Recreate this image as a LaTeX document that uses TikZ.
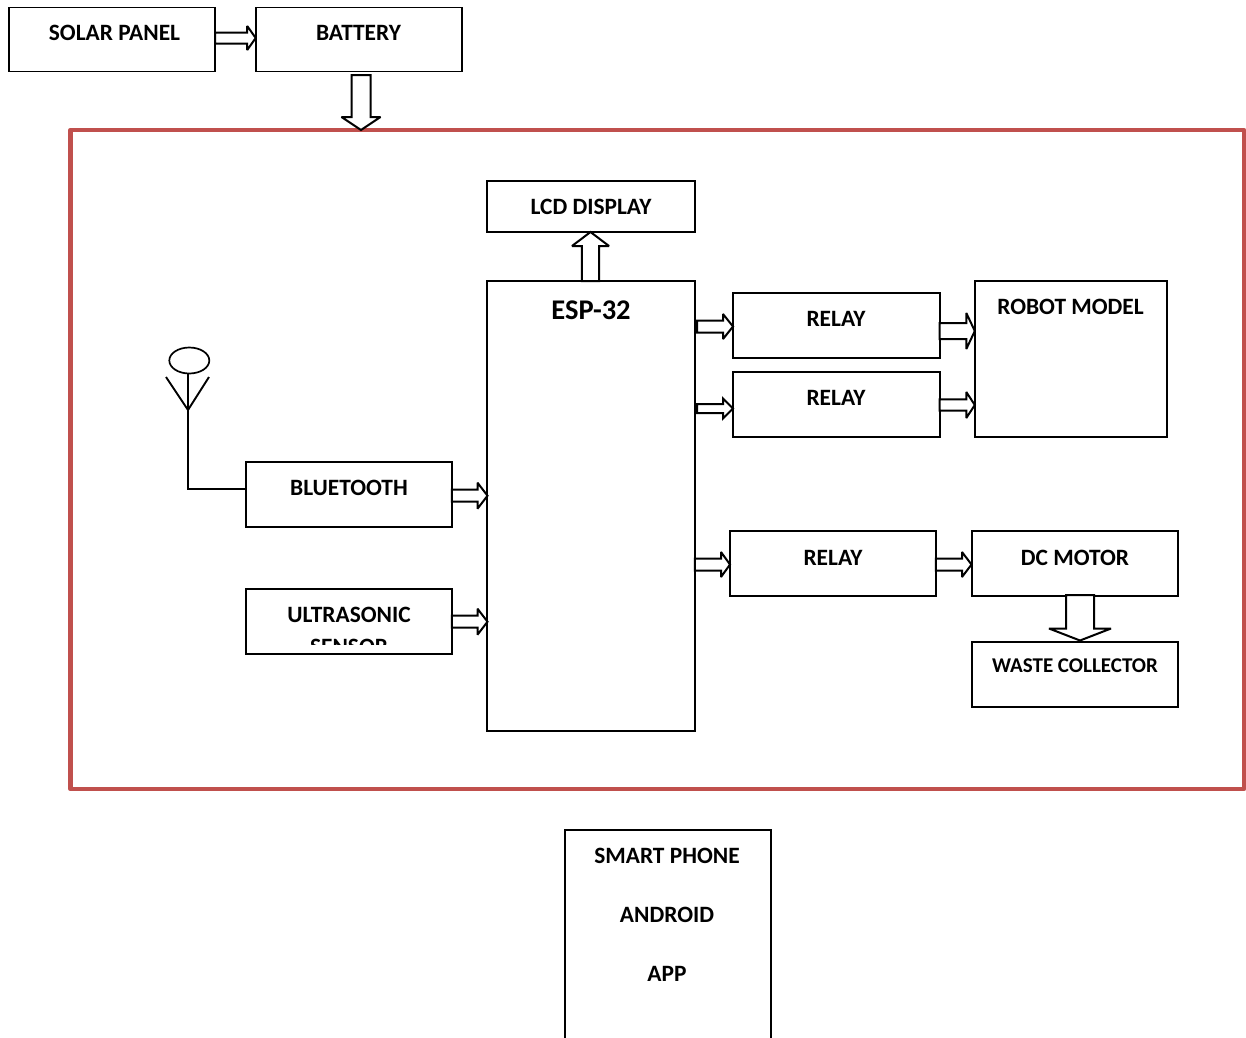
\documentclass[tikz,border=0pt]{standalone}
\usepackage{fontspec}
\setmainfont{Carlito}
\usetikzlibrary{calc,shapes.geometric}
\newcommand{\blockarrow}[5]{%
  \coordinate (p) at (#1);
  \coordinate (q) at (#2);
  \coordinate (r) at ($(q)!#5 pt!(p)$);
  \draw[arrowline] ($(p)!#3 pt!90:(q)$) -- ($(r)!#3 pt!-90:(p)$) -- ($(r)!#4 pt!-90:(p)$) -- (q)
    -- ($(r)!#4 pt!90:(p)$) -- ($(r)!#3 pt!90:(p)$) -- ($(p)!#3 pt!-90:(q)$) -- cycle;
}
\tikzset{
  x=1pt,y=-1pt,
  boxs/.style={draw=black,line width=1.9pt,fill=white,inner sep=0pt,outer sep=0pt},
  arrowline/.style={draw=black,line width=2pt,fill=white,line join=miter,miter limit=3},
  wire/.style={draw=black,line width=1.9pt},
  txt/.style={font=\fontsize{23.4}{28}\selectfont\bfseries,inner sep=0pt,text=black},
  bigtxt/.style={font=\fontsize{28.5}{34}\selectfont\bfseries,inner sep=0pt,text=black},
  smalltxt/.style={font=\fontsize{21}{25}\selectfont\bfseries,inner sep=0pt,text=black},
  frame/.style={draw=framered,line width=4.5pt,line join=round},
}
\definecolor{framered}{HTML}{C0504D}
\begin{document}
\begin{tikzpicture}
\useasboundingbox (0,0) rectangle (1246,1037);
\fill[white] (0,0) rectangle (1246,1037);
% frame
\node[frame,minimum width=1173.5pt,minimum height=659pt,inner sep=0pt] (main) at (657.25,459.5) {};
% boxes
\node[boxs,minimum width=206pt,minimum height=64pt] (solar) at (112.2,39.5) {};
\node[boxs,minimum width=206pt,minimum height=64pt] (battery) at (358.7,39.5) {};
\node[boxs,minimum width=208pt,minimum height=51pt] (lcd) at (590.8,206.2) {};
\node[boxs,minimum width=208pt,minimum height=450pt] (esp) at (590.8,505.8) {};
\node[boxs,minimum width=207pt,minimum height=65pt] (relayA) at (836.2,325.3) {};
\node[boxs,minimum width=207pt,minimum height=65pt] (relayB) at (836.2,404.3) {};
\node[boxs,minimum width=206pt,minimum height=65pt] (relayC) at (832.8,563.3) {};
\node[boxs,minimum width=192pt,minimum height=156pt] (robot) at (1070.8,358.8) {};
\node[boxs,minimum width=206pt,minimum height=65pt] (dc) at (1074.8,563.3) {};
\node[boxs,minimum width=206pt,minimum height=65pt] (waste) at (1074.8,674.2) {};
\node[boxs,minimum width=206pt,minimum height=65pt] (bt) at (348.8,494.3) {};
\node[boxs,minimum width=206pt,minimum height=65pt] (us) at (348.8,621.3) {};
\node[minimum width=206pt,minimum height=220pt,inner sep=0pt,outer sep=0pt] (phone) at (667.6,940) {};
\draw[wire] (phone.south west) -- (phone.north west) -- (phone.north east) -- (phone.south east);
% labels
\node[txt] (solarT) at (114.5,33) {SOLAR PANEL};
\node[txt] (batteryT) at (358.5,33) {BATTERY};
\node[txt] (lcdT) at (591,207) {LCD DISPLAY};
\node[bigtxt] (espT) at (591,310) {ESP-32};
\node[txt] (relayAT) at (836,319) {RELAY};
\node[txt] (relayBT) at (836,398) {RELAY};
\node[txt] (relayCT) at (833,558) {RELAY};
\node[txt] (robotT) at (1070.5,307) {ROBOT MODEL};
\node[txt] (dcT) at (1075,558) {DC MOTOR};
\node[smalltxt] (wasteT) at (1075,666) {WASTE COLLECTOR};
\node[txt] (btT) at (349,488) {BLUETOOTH};
\node[txt] (usT) at (349,615) {ULTRASONIC};
\begin{scope}
  \clip (246,636) rectangle (452,644);
  \node[txt] (usT2) at (349,647) {SENSOR};
\end{scope}
\node[txt] (phoneA) at (667,856) {SMART PHONE};
\node[txt] (phoneB) at (667,915) {ANDROID};
\node[txt] (phoneC) at (667,974) {APP};
% antenna
\node[draw=black,line width=1.7pt,ellipse,minimum width=40pt,minimum height=26pt,inner sep=0pt,outer sep=0pt] (ant) at (189.3,360.5) {};
\coordinate (antL) at (166,377);
\coordinate (antR) at (209,377);
\coordinate (antV) at (188,410);
\coordinate (antB) at (188,489);
\draw[wire] (antL) -- (antV) -- (antR);
\draw[wire] (ant.south -| antV) -- (antB) -- (bt.west |- antB);
% block arrows
\blockarrow{solar.east |- 0,38}{battery.west |- 0,38}{5.5}{12}{8.5}
\blockarrow{361,75}{361,130}{9.5}{19.5}{13}
\blockarrow{590.5,281}{590.5,232}{8.7}{18.5}{14}
\blockarrow{697,326.5}{733,326.5}{6}{12.5}{10}
\blockarrow{697,408.5}{733,408.5}{4.5}{10}{10}
\blockarrow{relayA.east |- 0,331}{robot.west |- 0,331}{8}{18}{8.5}
\blockarrow{relayB.east |- 0,405}{robot.west |- 0,405}{5.7}{13}{8.5}
\blockarrow{esp.east |- 0,564.5}{730,564.5}{6}{12.5}{9}
\blockarrow{relayC.east |- 0,564.5}{971.5,564.5}{6}{12.5}{9.5}
\blockarrow{1080,595}{1080,640.5}{14}{31}{12}
\blockarrow{bt.east |- 0,495.7}{487.5,495.7}{6}{13}{10}
\blockarrow{us.east |- 0,621.7}{487.5,621.7}{6}{13}{10}
\end{tikzpicture}
\end{document}
